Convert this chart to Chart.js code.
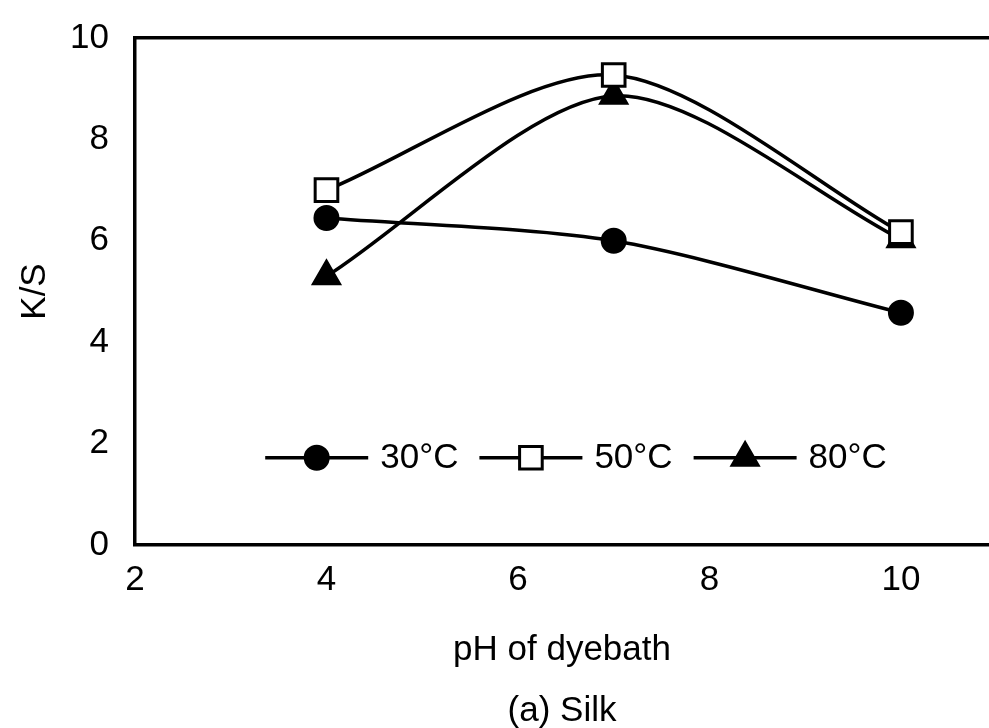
<!DOCTYPE html>
<html>
<head>
<meta charset="utf-8">
<script src="https://cdn.jsdelivr.net/npm/chart.js@4/dist/chart.umd.min.js"></script>
<style>
html,body{margin:0;padding:0;background:#fff;overflow:hidden;}
#wrap{width:989px;height:728px;position:relative;}
</style>
</head>
<body>
<div id="wrap"><canvas id="c" width="989" height="728"></canvas></div>
<script>
const phValues = [4, 7, 10];
const ks30 = [6.45, 6.0, 4.58];
const ks50 = [7.0, 9.27, 6.17];
const ks80 = [5.3, 8.86, 6.03];
const seriesLabels = ['30\u00B0C', '50\u00B0C', '80\u00B0C'];
const xTickValues = [2, 4, 6, 8, 10];
const yTickValues = [0, 2, 4, 6, 8, 10];

const FONT = '"Liberation Sans", Arial, sans-serif';

function pts(ys){ return phValues.map((x,i)=>({x:x, y:ys[i]})); }

const styles = [
  {pointStyle:'circle', bg:'#000', r:11.5},
  {pointStyle:'rect', bg:'#fff', r:16},
  {pointStyle:'triangle', bg:'#000', r:15}
];
const allData = [ks30, ks50, ks80];

const datasets = allData.map((d,i)=>({
  label: seriesLabels[i],
  data: pts(d),
  borderColor:'#000',
  borderWidth:3.5,
  backgroundColor: styles[i].bg,
  pointBackgroundColor: styles[i].bg,
  pointBorderColor:'#000',
  pointBorderWidth:3,
  pointStyle: styles[i].pointStyle,
  pointRadius: styles[i].r,
  tension:0.28,
  fill:false
}));

const insideLegend = {
  id:'insideLegend',
  afterDatasetsDraw(chart){
    const ctx = chart.ctx;
    const xs = chart.scales.x, ys = chart.scales.y;
    const cy = ys.getPixelForValue(1.72);
    let x = xs.getPixelForValue(3.36);
    ctx.save();
    ctx.font = '35px ' + FONT;
    ctx.textBaseline = 'middle';
    chart.data.datasets.forEach((ds,i)=>{
      const lineLen = 103;
      ctx.beginPath();
      ctx.lineWidth = 3.5;
      ctx.strokeStyle = '#000';
      ctx.moveTo(x, cy);
      ctx.lineTo(x+lineLen, cy);
      ctx.stroke();
      ctx.lineWidth = 3;
      ctx.fillStyle = styles[i].bg;
      ctx.strokeStyle = '#000';
      Chart.helpers.drawPoint(ctx, {pointStyle: styles[i].pointStyle, radius: styles[i].r, rotation:0, borderWidth:3}, x+lineLen/2, cy);
      const tx = x + lineLen + 12;
      ctx.fillStyle = '#000';
      ctx.fillText(ds.label, tx, cy+1);
      x = tx + ctx.measureText(ds.label).width + 21;
    });
    ctx.restore();
  }
};

new Chart(document.getElementById('c'), {
  type:'line',
  data:{ datasets: datasets },
  options:{
    responsive:false,
    animation:false,
    layout:{ autoPadding:false, padding:{left:0, right:0, top:0, bottom:0} },
    plugins:{ legend:{display:false}, tooltip:{enabled:false}, title:{display:false} },
    scales:{
      x:{
        type:'linear',
        min:2, max:10.92,
        position:'bottom',
        afterBuildTicks(scale){ scale.ticks = xTickValues.map(v=>({value:v})); },
        afterFit(scale){ scale.height = 183; scale.paddingRight = 0; scale.paddingLeft = 0; },
        ticks:{ color:'#000', font:{family:FONT, size:35}, padding:14, includeBounds:false },
        grid:{ display:false, drawTicks:false },
        border:{ display:true, color:'#000', width:3.5 },
        title:{
          display:true,
          text:['pH of dyebath', '(a) Silk'],
          color:'#000',
          font:{family:FONT, size:35, lineHeight:1.74},
          padding:{top:10, bottom:-14}
        }
      },
      x2:{
        type:'linear',
        min:2, max:10.92,
        position:'top',
        afterFit(scale){ scale.height = 38; scale.paddingRight = 0; scale.paddingLeft = 0; },
        ticks:{ display:false },
        grid:{ display:false, drawTicks:false },
        border:{ display:true, color:'#000', width:3.5 }
      },
      y:{
        min:0, max:10,
        afterBuildTicks(scale){ scale.ticks = yTickValues.map(v=>({value:v})); },
        afterFit(scale){ scale.width = 135; scale.paddingTop = 0; scale.paddingBottom = 0; },
        ticks:{ color:'#000', font:{family:FONT, size:35}, padding:26 },
        grid:{ display:false, drawTicks:false },
        border:{ display:true, color:'#000', width:3.5 },
        title:{ display:true, text:'K/S', color:'#000', font:{family:FONT, size:35}, padding:{top:14,bottom:0} }
      }
    }
  },
  plugins:[insideLegend]
});
</script>
</body>
</html>
